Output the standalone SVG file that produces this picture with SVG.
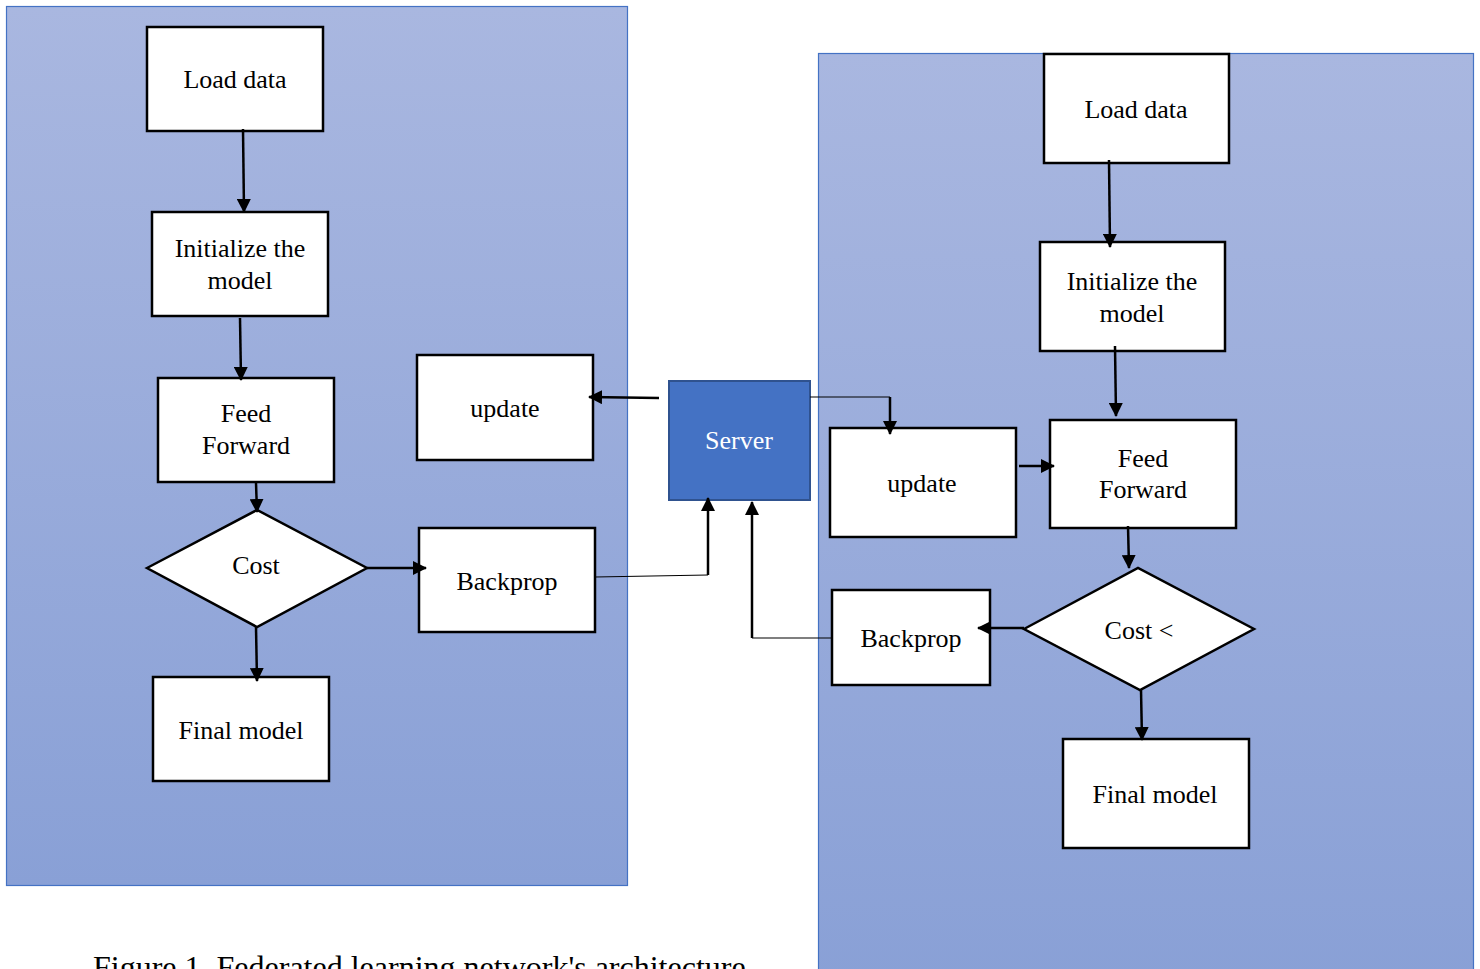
<svg xmlns="http://www.w3.org/2000/svg" width="1480" height="969" viewBox="0 0 1480 969">
<style>
.panel{stroke:#4472C4;stroke-width:1.2}
.box{fill:#fff;stroke:#000;stroke-width:2.5}
.t{font-family:"Liberation Serif","Times New Roman",serif;font-size:26px;fill:#000;text-anchor:middle}
.w{fill:#fff}
.c{fill:none;stroke:#000;stroke-width:2.5}
.thin{fill:none;stroke:#000;stroke-width:1.2}
</style>
<defs>
<linearGradient id="gl" x1="0" y1="0" x2="0" y2="1"><stop offset="0" stop-color="#A9B7E0"/><stop offset="1" stop-color="#89A0D6"/></linearGradient>
<marker id="ah" viewBox="0 0 14 14" refX="13" refY="7" markerWidth="14" markerHeight="14" markerUnits="userSpaceOnUse" orient="auto"><path d="M0,0 L14,7 L0,14 Z" fill="#000"/></marker>
</defs>
<rect width="1480" height="969" fill="#fff"/>
<rect class="panel" x="6.5" y="6.5" width="621" height="879" fill="url(#gl)"/>
<rect class="panel" x="818.5" y="53.5" width="655" height="930" fill="url(#gl)"/>

<g id="l-load"><rect class="box" x="147" y="27" width="176" height="104"/><text class="t" x="235" y="88">Load data</text></g>
<g id="l-init"><rect class="box" x="152" y="212" width="176" height="104"/><text class="t" x="240" y="257">Initialize the</text><text class="t" x="240" y="289">model</text></g>
<g id="l-ff"><rect class="box" x="158" y="378" width="176" height="104"/><text class="t" x="246" y="422">Feed</text><text class="t" x="246" y="454">Forward</text></g>
<g id="l-cost"><polygon class="box" points="147,568 257,510 367,568 257,627"/><text class="t" x="256" y="574">Cost</text></g>
<g id="l-final"><rect class="box" x="153" y="677" width="176" height="104"/><text class="t" x="241" y="739">Final model</text></g>
<g id="l-update"><rect class="box" x="417" y="355" width="176" height="105"/><text class="t" x="505" y="417">update</text></g>
<g id="l-backprop"><rect class="box" x="419" y="528" width="176" height="104"/><text class="t" x="507" y="590">Backprop</text></g>

<g id="server"><rect x="669" y="381" width="141" height="119" fill="#4472C4" stroke="#2F528F" stroke-width="2"/><text class="t w" x="739" y="449">Server</text></g>

<g id="r-load"><rect class="box" x="1044" y="54" width="185" height="109"/><text class="t" x="1136" y="118">Load data</text></g>
<g id="r-init"><rect class="box" x="1040" y="242" width="185" height="109"/><text class="t" x="1132" y="290">Initialize the</text><text class="t" x="1132" y="322">model</text></g>
<g id="r-ff"><rect class="box" x="1050" y="420" width="186" height="108"/><text class="t" x="1143" y="467">Feed</text><text class="t" x="1143" y="498">Forward</text></g>
<g id="r-update"><rect class="box" x="830" y="428" width="186" height="109"/><text class="t" x="922" y="492">update</text></g>
<g id="r-backprop"><rect class="box" x="832" y="590" width="158" height="95"/><text class="t" x="911" y="647">Backprop</text></g>
<g id="r-cost"><polygon class="box" points="1024,629 1138,568 1254,629 1140,690"/><text class="t" x="1139" y="639">Cost &lt;</text></g>
<g id="r-final"><rect class="box" x="1063" y="739" width="186" height="109"/><text class="t" x="1155" y="803">Final model</text></g>

<g id="connectors">
<path class="c" d="M243,129 L244,212" marker-end="url(#ah)"/>
<path class="c" d="M240,318 L241,380" marker-end="url(#ah)"/>
<path class="c" d="M256,483 L257,512" marker-end="url(#ah)"/>
<path class="c" d="M256,627 L257,681" marker-end="url(#ah)"/>
<path class="c" d="M367,568 L426,568" marker-end="url(#ah)"/>
<path class="c" d="M659,398 L589,397" marker-end="url(#ah)"/>
<path class="thin" d="M595,577 L708,575"/>
<path class="c" d="M708,575 L708,498" marker-end="url(#ah)"/>
<path class="thin" d="M832,638 L752,638"/>
<path class="c" d="M752,638 L752,502" marker-end="url(#ah)"/>
<path class="thin" d="M810,397 L890,397"/>
<path class="c" d="M890,397 L890,434" marker-end="url(#ah)"/>
<path class="c" d="M1019,466 L1054,466" marker-end="url(#ah)"/>
<path class="c" d="M1109,160 L1110,247" marker-end="url(#ah)"/>
<path class="c" d="M1115,346 L1116,416" marker-end="url(#ah)"/>
<path class="c" d="M1128,526 L1129,568" marker-end="url(#ah)"/>
<path class="c" d="M1024,628 L978,628" marker-end="url(#ah)"/>
<path class="c" d="M1141,690 L1142,740" marker-end="url(#ah)"/>
</g>

<text x="93" y="978" font-family="'Liberation Serif','Times New Roman',serif" font-size="32" fill="#000">Figure 1. Federated learning network's architecture</text>
</svg>
